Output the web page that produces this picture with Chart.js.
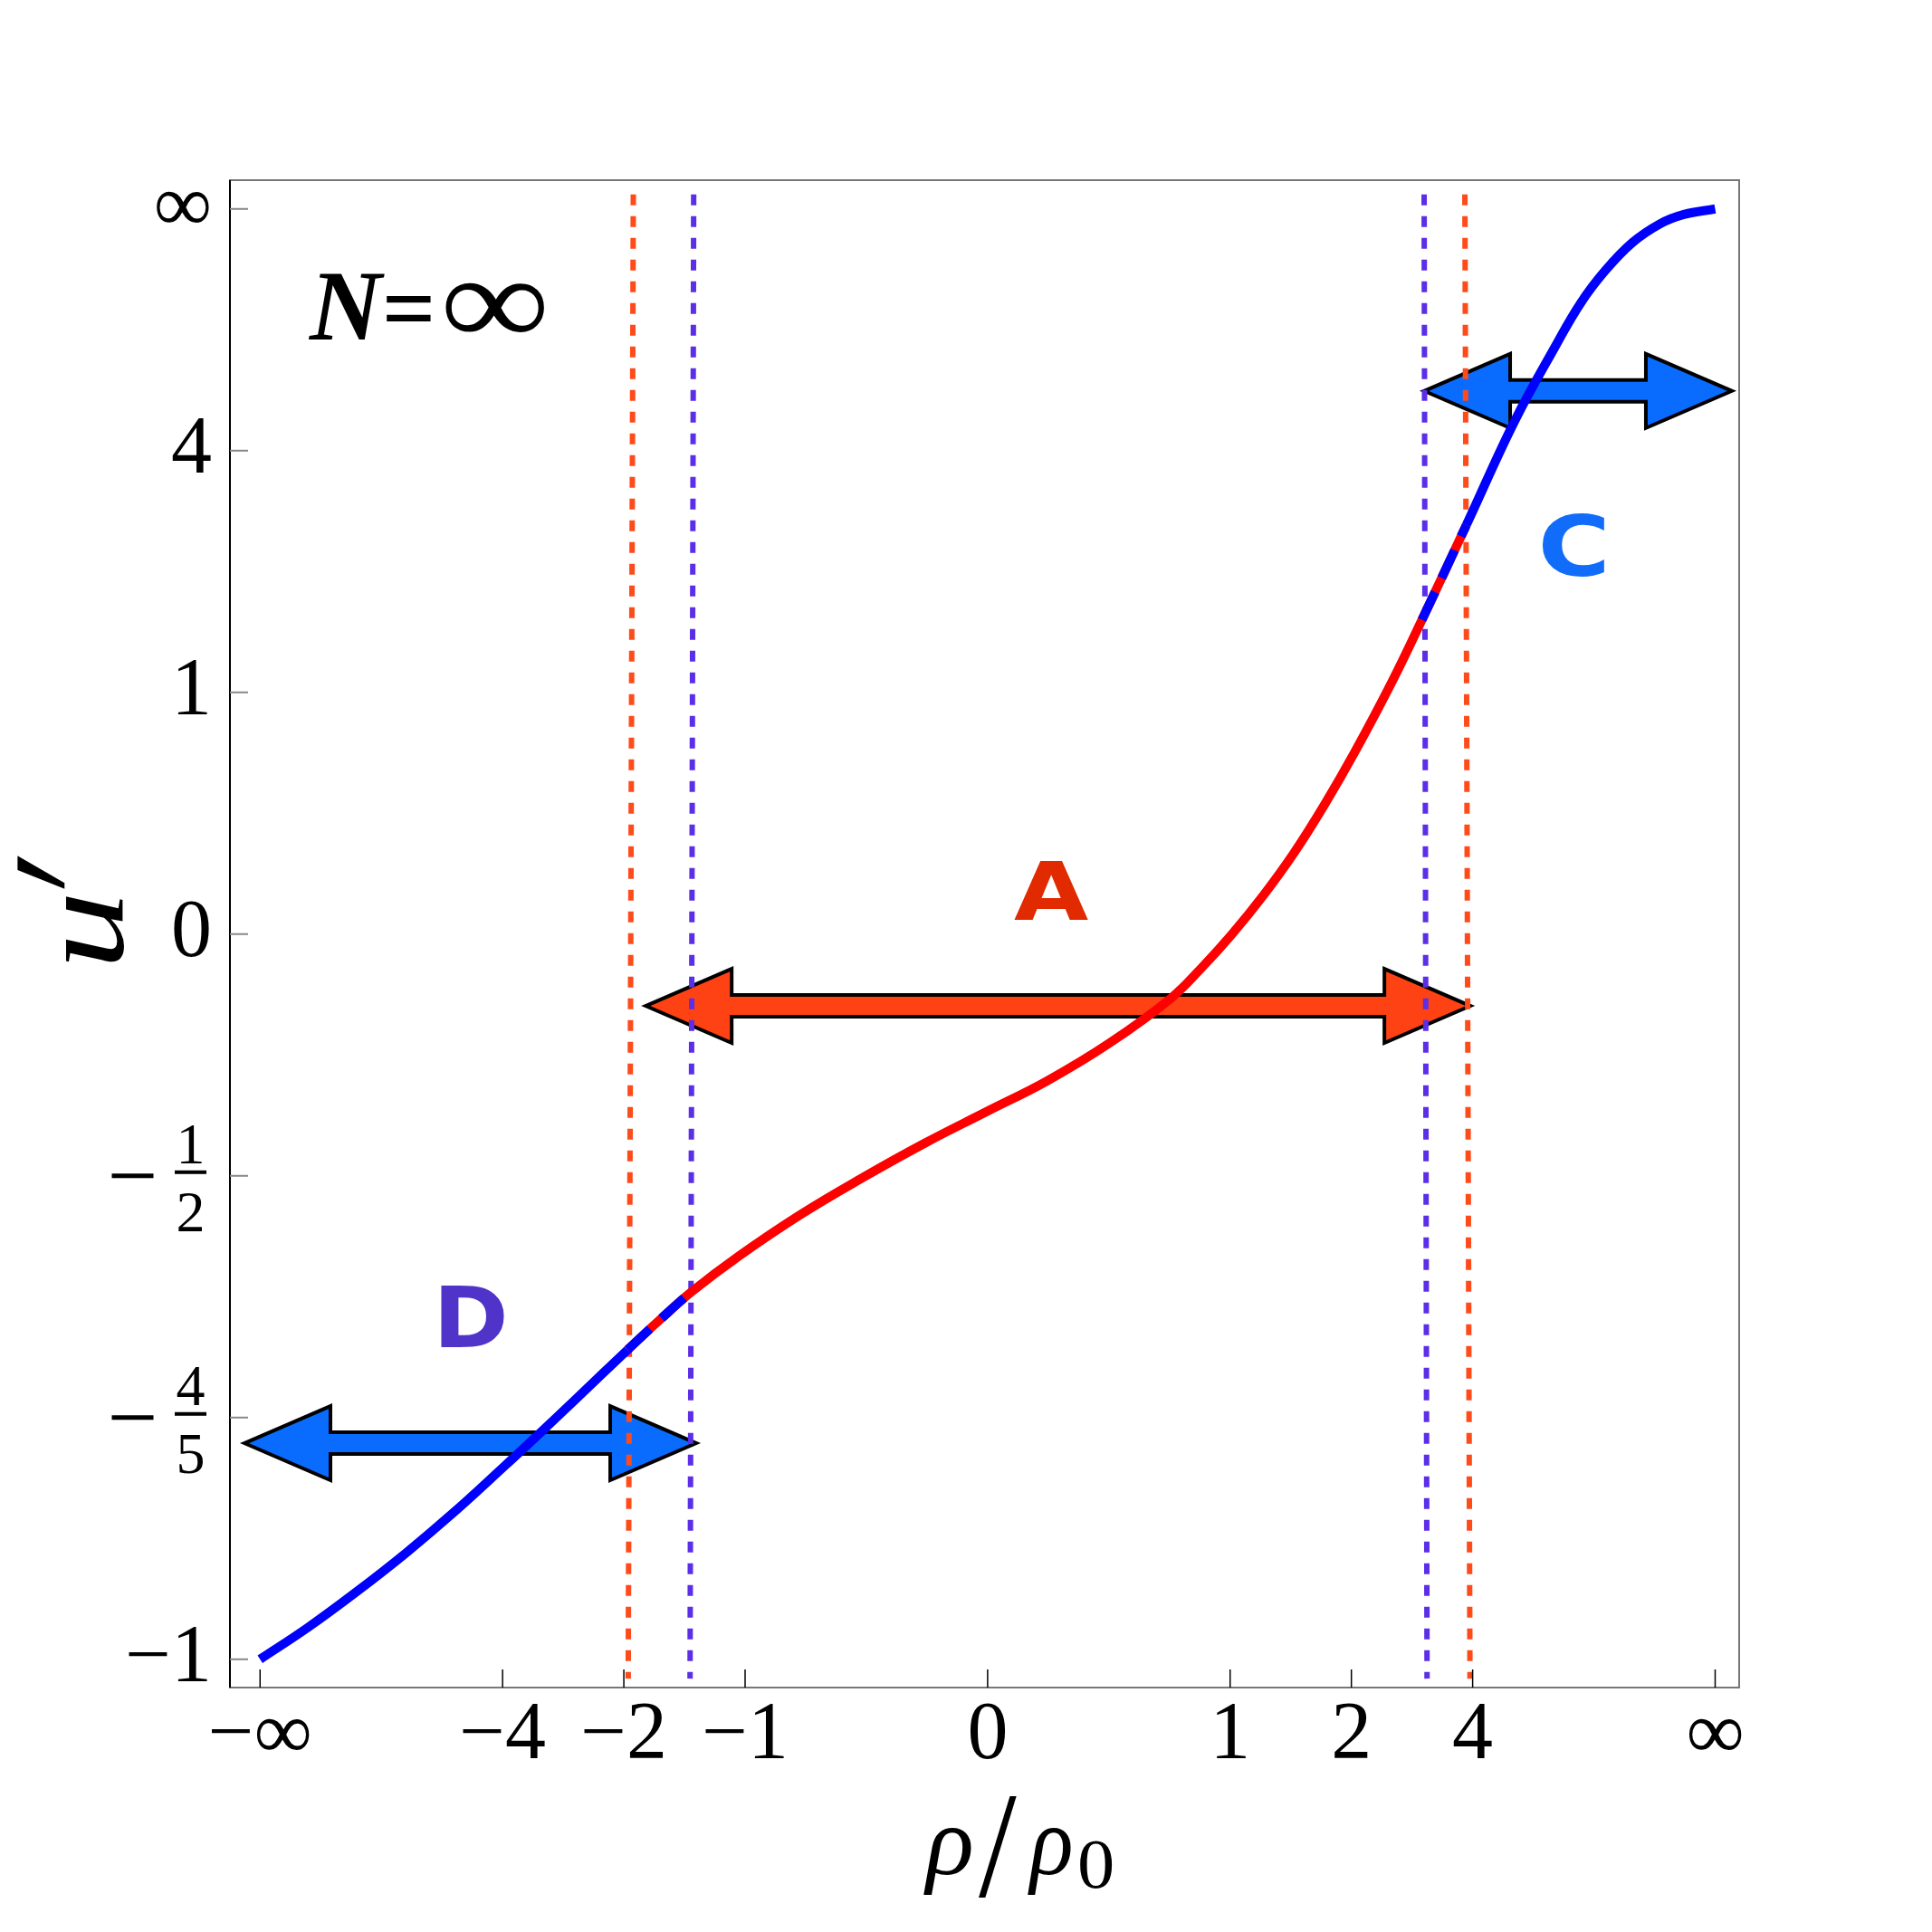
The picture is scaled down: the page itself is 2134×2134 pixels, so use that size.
<!DOCTYPE html>
<html>
<head>
<meta charset="utf-8">
<script src="https://cdn.jsdelivr.net/npm/chart.js@4.4.1/dist/chart.umd.min.js"></script>
<style>
html, body { margin: 0; padding: 0; background: #fff; }
canvas { display: block; }
</style>
</head>
<body>
<canvas id="chart" width="2134" height="2134"></canvas>
<script>
// the plot uses compactified axes: rho/rho0 -> rho/(|rho|+2), so -inf..inf is -1..1,
// and u' is placed on its own tick scale (-1, -4/5, -1/2, 0, 1, 4, inf -> -3..3)
var xTickPos = [-1, -2/3, -0.5, -1/3, 0, 1/3, 0.5, 2/3, 1];
var xTickLabels = ['−∞', '−4', '−2', '−1', '0', '1', '2', '4', '∞'];
var yTickPos = [-3, -2, -1, 0, 1, 2, 3];
var yTickLabels = ['−1', '−4/5', '−1/2', '0', '1', '4', '∞'];

// u'(rho/rho0)
var curveX = [-1.0, -0.934, -0.868, -0.799, -0.731, -0.663, -0.629, -0.562, -0.495, -0.451, -0.407,
  -0.341, -0.257, -0.172, -0.087, -0.003, 0.082, 0.167, 0.252, 0.294, 0.336, 0.379, 0.421, 0.463,
  0.505, 0.556, 0.597, 0.658, 0.724, 0.780, 0.815, 0.849, 0.886, 0.924, 0.957, 1.0];
var curveY = [-3.0, -2.868, -2.722, -2.559, -2.385, -2.198, -2.103, -1.912, -1.720, -1.597, -1.480,
  -1.330, -1.160, -1.008, -0.866, -0.737, -0.607, -0.452, -0.265, -0.140, 0.0, 0.160, 0.335, 0.535,
  0.755, 1.045, 1.300, 1.692, 2.120, 2.430, 2.610, 2.745, 2.860, 2.938, 2.977, 3.0];

// region limits along rho/rho0
var regionA = [-0.495, 0.658];
var regionD = [-1.0, -0.407];
var regionC = [0.597, 1.0];

// dotted region borders (x at top and at bottom)
var borderTopX = [-0.487, -0.404, 0.600, 0.656];
var borderBotX = [-0.494, -0.409, 0.604, 0.663];
var borderTopY = 3.06, borderBotY = -3.08;

// double arrows and their letters
var arrowNames = ['A', 'C', 'D'];
var arrowFrom = [-0.470, 0.600, -1.0215];
var arrowTo = [0.6636, 1.023, -0.4005];
var arrowY = [-0.297, 2.247, -2.106];
var letterX = [0.0874, 0.805, -0.708];
var letterY = [0.1805, 1.609, -1.582];

// styles
var borderColors = ['#ff4a1a', '#5b2ee8', '#5b2ee8', '#ff4a1a'];
var arrowColors = ['#ff4213', '#0a6cff', '#0a6cff'];
var letterColors = ['#e22a00', '#126cfa', '#5033c8'];
var letterInk = [[82, 67], [69, 70], [70, 68]];
var serif = '"Liberation Serif", "Times New Roman", serif';
var blue = '#0000ff';
var red = '#ff0000';
var clear = 'rgba(0,0,0,0)';

var curveData = curveX.map(function(x, i) { return {x: x, y: curveY[i]}; });

function curveSet(label, lo, hi, color, dash) {
  var inside = function(c) { return c.p0.parsed.x >= lo - 1e-9 && c.p1.parsed.x <= hi + 1e-9; };
  return {
    label: label, data: curveData, borderWidth: 10, borderColor: color,
    borderDash: dash || [], pointRadius: 0, tension: 0.4, fill: false, borderCapStyle: 'butt',
    segment: { borderColor: function(c) { return inside(c) ? color : clear; } }
  };
}

var datasets = [
  curveSet('D/A overlap', regionA[0], regionD[1], blue, [34, 17]),
  curveSet('C/A overlap', regionC[0], regionA[1], blue, [34, 17]),
  curveSet('D', regionD[0], regionA[0], blue),
  curveSet('C', regionA[1], regionC[1], blue),
  curveSet('A', regionA[0], regionA[1], red)
];
for (var i = 0; i < borderTopX.length; i++) {
  datasets.push({
    label: 'border ' + i,
    data: [{x: borderTopX[i], y: borderTopY}, {x: borderBotX[i], y: borderBotY}],
    borderColor: borderColors[i], borderWidth: 6, borderDash: [12, 12], pointRadius: 0, fill: false
  });
}

// draw text so that its ink fills the box l,t,r,b
function fitBox(ctx, text, font, l, t, r, b) {
  ctx.font = font;
  ctx.textAlign = 'left';
  ctx.textBaseline = 'alphabetic';
  var m = ctx.measureText(text);
  var w = m.actualBoundingBoxLeft + m.actualBoundingBoxRight;
  var h = m.actualBoundingBoxAscent + m.actualBoundingBoxDescent;
  ctx.save();
  ctx.translate(l, t);
  ctx.scale((r - l) / w, (b - t) / h);
  ctx.fillText(text, m.actualBoundingBoxLeft, m.actualBoundingBoxAscent);
  ctx.restore();
}

var decor = {
  id: 'decor',
  beforeDatasetsDraw: function(chart) {
    var ctx = chart.ctx, xs = chart.scales.x, ys = chart.scales.y;
    var hl = 95, hh = 41, sh = 12;
    ctx.save();
    for (var i = 0; i < arrowFrom.length; i++) {
      var x1 = xs.getPixelForValue(arrowFrom[i]);
      var x2 = xs.getPixelForValue(arrowTo[i]);
      var y = ys.getPixelForValue(arrowY[i]);
      ctx.beginPath();
      ctx.moveTo(x1, y);
      ctx.lineTo(x1 + hl, y - hh);
      ctx.lineTo(x1 + hl, y - sh);
      ctx.lineTo(x2 - hl, y - sh);
      ctx.lineTo(x2 - hl, y - hh);
      ctx.lineTo(x2, y);
      ctx.lineTo(x2 - hl, y + hh);
      ctx.lineTo(x2 - hl, y + sh);
      ctx.lineTo(x1 + hl, y + sh);
      ctx.lineTo(x1 + hl, y + hh);
      ctx.closePath();
      ctx.fillStyle = arrowColors[i];
      ctx.fill();
      ctx.lineWidth = 4;
      ctx.lineJoin = 'miter';
      ctx.strokeStyle = '#000';
      ctx.stroke();
    }
    ctx.restore();
  },
  afterDraw: function(chart) {
    var ctx = chart.ctx, xs = chart.scales.x, ys = chart.scales.y, a = chart.chartArea;
    ctx.save();

    // frame
    ctx.lineWidth = 2;
    ctx.strokeStyle = '#777';
    ctx.strokeRect(a.left, a.top, a.right - a.left, a.bottom - a.top);
    ctx.strokeStyle = '#000';
    ctx.beginPath();
    ctx.moveTo(a.left, a.top);
    ctx.lineTo(a.left, a.bottom);
    ctx.stroke();

    // inward ticks
    ctx.lineWidth = 1.5;
    ctx.strokeStyle = '#000';
    xTickPos.forEach(function(v) {
      var px = xs.getPixelForValue(v);
      ctx.beginPath();
      ctx.moveTo(px, a.bottom);
      ctx.lineTo(px, a.bottom - 20);
      ctx.stroke();
    });
    ctx.strokeStyle = '#888';
    ctx.lineWidth = 2;
    yTickPos.forEach(function(v) {
      var py = ys.getPixelForValue(v);
      ctx.beginPath();
      ctx.moveTo(a.left, py);
      ctx.lineTo(a.left + 20, py);
      ctx.stroke();
    });

    // y tick labels (fractions stacked)
    ctx.fillStyle = '#000';
    var right = a.left - 20;
    yTickPos.forEach(function(v, i) {
      var py = ys.getPixelForValue(v);
      var lab = yTickLabels[i];
      var m = lab.match(/^−(\d)\/(\d)$/);
      if (m) {
        var cx = a.left - 43.5;
        ctx.fillRect(cx - 87, py - 2.5, 46, 5);
        ctx.fillRect(cx - 17.5, py - 6, 35, 4);
        ctx.font = '64px ' + serif;
        ctx.textAlign = 'center';
        ctx.textBaseline = 'alphabetic';
        ctx.fillText(m[1], cx, py - 14);
        ctx.fillText(m[2], cx, py + 61);
      } else {
        ctx.font = '90px ' + serif;
        ctx.textAlign = 'right';
        ctx.textBaseline = 'alphabetic';
        ctx.fillText(lab, right, py + 24);
      }
    });

    // y axis title u' (rotated, reads upward)
    ctx.save();
    ctx.translate(137, 1063);
    ctx.rotate(-Math.PI / 2);
    fitBox(ctx, 'u', 'italic 150px ' + serif, 0, -64, 73, 0);
    ctx.transform(1, 0, -0.34, 1, 0, 0);
    fitBox(ctx, '′', 'bold 150px ' + serif, 58, -119, 78, -66);
    ctx.restore();

    // x axis title rho/rho0
    fitBox(ctx, 'ρ', 'italic 110px ' + serif, 1020, 2018, 1073, 2093);
    fitBox(ctx, '/', '150px ' + serif, 1081, 1983, 1123, 2095);
    fitBox(ctx, 'ρ', 'italic 110px ' + serif, 1135, 2018, 1183, 2093);
    fitBox(ctx, '0', '78px ' + serif, 1192, 2033, 1229, 2087);

    // N = infinity
    var nx = xs.getPixelForValue(-0.932), ny = ys.getPixelForValue(2.46);
    ctx.textAlign = 'left';
    ctx.font = 'bold italic 110px ' + serif;
    ctx.fillText('N', nx, ny);
    ctx.font = 'bold 104px ' + serif;
    ctx.fillText('=', nx + 80, ny);
    fitBox(ctx, '∞', '150px ' + serif, nx + 150, ny - 62, nx + 260, ny - 7);

    // region letters
    for (var i = 0; i < arrowNames.length; i++) {
      var lx = xs.getPixelForValue(letterX[i]), ly = ys.getPixelForValue(letterY[i]);
      var w = letterInk[i][0], h = letterInk[i][1];
      ctx.fillStyle = letterColors[i];
      fitBox(ctx, arrowNames[i], 'bold 92px "DejaVu Sans", sans-serif', lx - w / 2, ly - h / 2, lx + w / 2, ly + h / 2);
    }
    ctx.restore();
  }
};

var chart = new Chart(document.getElementById('chart'), {
  type: 'line',
  data: { datasets: datasets },
  options: {
    responsive: false,
    animation: false,
    devicePixelRatio: 1,
    layout: { padding: { top: 199, right: 213, left: 0, bottom: 0 } },
    plugins: { legend: { display: false }, tooltip: { enabled: false } },
    scales: {
      x: {
        type: 'linear', min: -1.0414, max: 1.033,
        grid: { display: false, drawTicks: false },
        border: { display: false },
        afterBuildTicks: function(s) { s.ticks = xTickPos.map(function(v) { return {value: v}; }); },
        afterFit: function(s) { s.height = 270; },
        ticks: {
          autoSkip: false, maxRotation: 0, padding: 0, color: '#000',
          font: { family: serif, size: 90 },
          callback: function(v, i) { return xTickLabels[i]; }
        }
      },
      y: {
        type: 'linear', min: -3.117, max: 3.119,
        grid: { display: false, drawTicks: false },
        border: { display: false },
        ticks: { display: false },
        afterFit: function(s) { s.width = 254; }
      }
    }
  },
  plugins: [decor]
});
</script>
</body>
</html>
